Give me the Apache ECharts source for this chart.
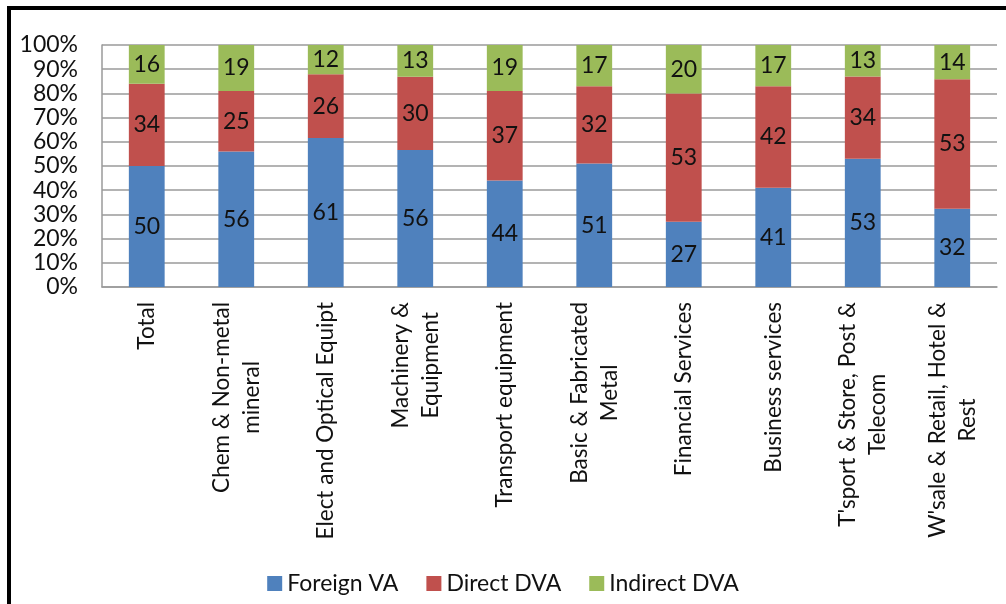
<!DOCTYPE html>
<html>
<head>
<meta charset="utf-8">
<script src="https://cdn.jsdelivr.net/npm/echarts@6/dist/echarts.min.js"></script>
<style>
  html, body { margin: 0; padding: 0; background: #fff; }
  #chart { position: absolute; left: 0; top: 0; width: 1006px; height: 604px; }
  #frame {
    position: absolute; left: 7px; top: 6px; width: 1100px; height: 700px;
    border-left: 4px solid #000; border-top: 4px solid #000;
    pointer-events: none;
  }
</style>
</head>
<body>
<div id="chart"></div>
<div id="frame"></div>
<script>
// Sectors (line breaks as printed under the axis)
const categories = [
  'Total',
  'Chem & Non-metal\nmineral',
  'Elect and Optical Equipt',
  'Machinery &\nEquipment',
  'Transport equipment',
  'Basic & Fabricated\nMetal',
  'Financial Services',
  'Business services',
  "T'sport & Store, Post &\nTelecom",
  "W'sale & Retail, Hotel &\nRest"
];

// Shares of value added (%)
const foreignVA   = [50, 56, 61, 56, 44, 51, 27, 41, 53, 32];
const directDVA   = [34, 25, 26, 30, 37, 32, 53, 42, 34, 53];
const indirectDVA = [16, 19, 12, 13, 19, 17, 20, 17, 13, 14];

const yTicks = [0, 10, 20, 30, 40, 50, 60, 70, 80, 90, 100];

const colors = ['#4F81BD', '#C0504D', '#9BBB59'];
const FONT = 'Lato, "Open Sans", sans-serif';

// 100% stacking: each column is scaled to its own total
const totals = categories.map((_, i) => foreignVA[i] + directDVA[i] + indirectDVA[i]);
const toShare = arr => arr.map((v, i) => ({ value: v / totals[i] * 100, raw: v }));

function makeSeries(name, arr, color) {
  return {
    name: name,
    type: 'bar',
    stack: 'share',
    barWidth: '40%',
    itemStyle: { color: color },
    label: {
      show: true,
      position: 'inside',
      color: '#111',
      fontFamily: FONT,
      fontSize: 23,
      formatter: p => String(p.data.raw)
    },
    data: toShare(arr)
  };
}

const chart = echarts.init(document.getElementById('chart'), null, { renderer: 'canvas' });

chart.setOption({
  animation: false,
  backgroundColor: '#fff',
  textStyle: { fontFamily: FONT },
  grid: { left: 102, right: 9, top: 45, bottom: 317 },
  legend: {
    bottom: 4,
    left: 'center',
    icon: 'rect',
    itemWidth: 15,
    itemHeight: 15,
    itemGap: 28,
    textStyle: { fontFamily: FONT, fontSize: 23, color: '#111' },
    data: ['Foreign VA', 'Direct DVA', 'Indirect DVA']
  },
  xAxis: {
    type: 'category',
    data: categories,
    axisLine: { show: true, lineStyle: { color: '#9a9a9a', width: 1.5 } },
    axisTick: { show: false },
    axisLabel: {
      interval: 0,
      rotate: 90,
      margin: 15,
      color: '#111',
      formatter: v => v.split('\n').map(s => '{c|' + s + '}').join('\n'),
      rich: {
        c: { fontFamily: FONT, fontSize: 22.5, lineHeight: 30, align: 'center', color: '#111' }
      }
    }
  },
  yAxis: {
    type: 'value',
    min: 0,
    max: 100,
    interval: 10,
    axisLine: { show: true, lineStyle: { color: '#9a9a9a', width: 1.5 } },
    axisTick: { show: false },
    splitLine: { show: true, lineStyle: { color: '#9a9a9a', width: 1.5 } },
    axisLabel: {
      margin: 24,
      color: '#111',
      fontFamily: FONT,
      fontSize: 23,
      customValues: yTicks,
      formatter: v => v + '%'
    }
  },
  series: [
    makeSeries('Foreign VA', foreignVA, colors[0]),
    makeSeries('Direct DVA', directDVA, colors[1]),
    makeSeries('Indirect DVA', indirectDVA, colors[2])
  ]
});
</script>
</body>
</html>
